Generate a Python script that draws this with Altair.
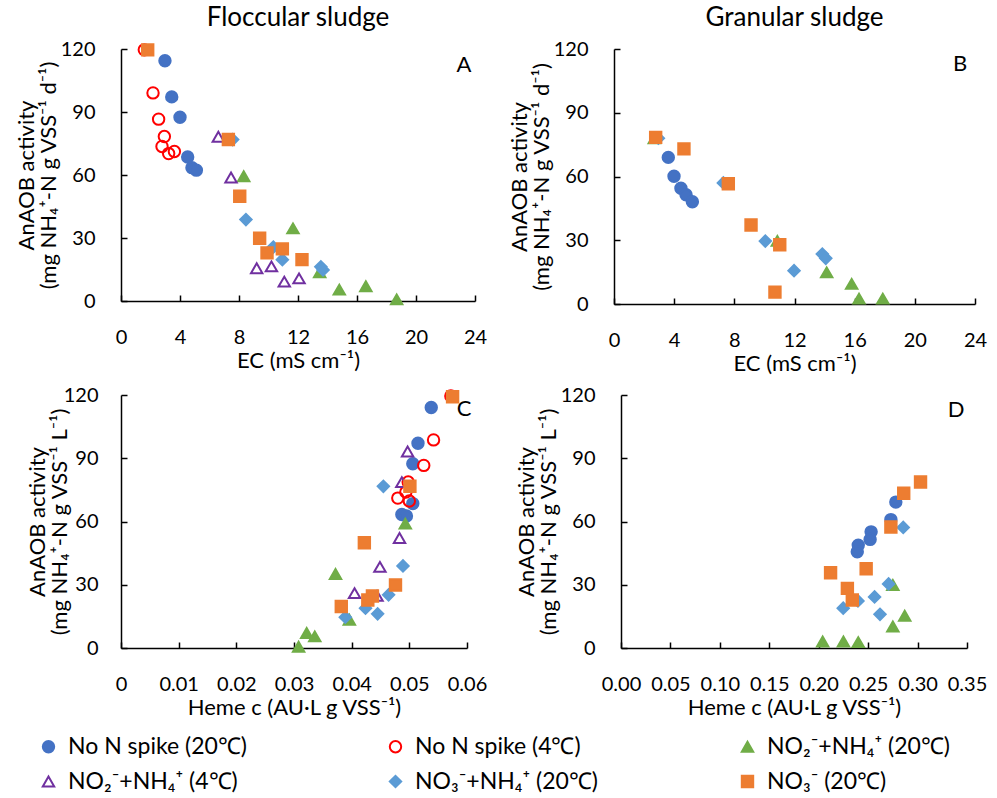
import altair as alt
import pandas as pd

FONT = "Lato"

SERIES = ["No N spike (20℃)", "No N spike (4℃)", "NO₂⁻+NH₄⁺ (20℃)",
          "NO₂⁻+NH₄⁺ (4℃)", "NO₃⁻+NH₄⁺ (20℃)", "NO₃⁻ (20℃)"]
FILLS = ["#4472C4", "transparent", "#70AD47", "transparent", "#5B9BD5", "#ED7D31"]
STROKES = ["#4472C4", "#FF0000", "#70AD47", "#7030A0", "#5B9BD5", "#ED7D31"]
SHAPES = ["circle", "circle", "triangle-up", "triangle-up", "diamond", "square"]

# ---- Panel A: floccular sludge, EC vs activity ----
A_blue_x = [2.98, 3.44, 4.0, 4.52, 4.81, 5.11]
A_blue_y = [114.4, 97.2, 87.5, 68.6, 63.5, 62.3]
A_red_x = [1.58, 2.17, 2.55, 2.94, 2.78, 3.23, 3.62]
A_red_y = [119.6, 99.1, 86.6, 78.3, 73.6, 70.2, 71.2]
A_green_x = [8.32, 11.66, 13.47, 14.8, 16.6, 18.69]
A_green_y = [59.4, 34.6, 13.7, 5.4, 7.0, 0.8]
A_purple_x = [6.6, 7.46, 9.2, 10.2, 11.07, 12.07]
A_purple_y = [78.2, 58.8, 15.6, 16.5, 9.2, 10.8]
A_diam_x = [7.57, 8.47, 10.33, 10.94, 13.55, 13.7]
A_diam_y = [76.9, 38.8, 25.7, 19.7, 16.3, 14.8]
A_orange_x = [1.81, 7.28, 8.05, 9.4, 9.9, 10.94, 12.27]
A_orange_y = [119.6, 76.9, 49.9, 29.9, 22.9, 24.8, 19.7]

# ---- Panel B: granular sludge, EC vs activity ----
B_blue_x = [3.61, 3.99, 4.45, 4.79, 5.21]
B_blue_y = [69.0, 60.1, 54.5, 51.4, 48.1]
B_green_x = [2.68, 10.86, 14.14, 15.8, 16.29, 17.87]
B_green_y = [78.0, 29.7, 14.9, 9.5, 2.5, 2.5]
B_diam_x = [2.95, 7.27, 10.06, 11.97, 13.85, 14.08]
B_diam_y = [78.0, 57.0, 29.6, 15.7, 23.5, 21.5]
B_orange_x = [2.77, 4.65, 7.6, 9.11, 11.02, 10.7]
B_orange_y = [78.4, 73.0, 56.6, 37.2, 27.9, 5.6]

# ---- Panel C: floccular sludge, heme c vs activity ----
C_blue_x = [0.0538, 0.0515, 0.0506, 0.0506, 0.0487, 0.0495]
C_blue_y = [114.1, 97.1, 87.4, 68.5, 63.3, 62.6]
C_red_x = [0.0572, 0.0542, 0.0525, 0.0498, 0.0494, 0.0480, 0.0500]
C_red_y = [119.5, 98.7, 86.6, 78.7, 74.0, 71.1, 69.7]
C_green_x = [0.0493, 0.0372, 0.0396, 0.0322, 0.0336, 0.0308]
C_green_y = [59.0, 35.1, 13.4, 7.1, 5.5, 0.6]
C_purple_x = [0.0497, 0.0487, 0.0483, 0.0449, 0.0444, 0.0405]
C_purple_y = [93.2, 78.7, 52.2, 38.5, 24.7, 26.0]
C_diam_x = [0.0455, 0.0489, 0.0464, 0.0445, 0.0389, 0.0424]
C_diam_y = [76.7, 38.9, 25.2, 16.2, 14.6, 18.9]
C_orange_x = [0.0575, 0.0501, 0.0422, 0.0476, 0.0436, 0.0428, 0.0382]
C_orange_y = [119.2, 76.7, 49.9, 29.9, 24.7, 22.8, 19.7]

# ---- Panel D: granular sludge, heme c vs activity ----
D_blue_x = [0.278, 0.273, 0.253, 0.252, 0.240, 0.239]
D_blue_y = [69.2, 60.9, 55.1, 51.5, 48.8, 45.6]
D_green_x = [0.204, 0.225, 0.240, 0.275, 0.287, 0.275]
D_green_y = [3.1, 3.1, 2.8, 29.9, 15.3, 10.2]
D_diam_x = [0.2855, 0.2707, 0.2565, 0.2397, 0.2248, 0.262]
D_diam_y = [57.2, 30.4, 24.2, 22.3, 18.9, 16.0]
D_orange_x = [0.303, 0.286, 0.273, 0.248, 0.212, 0.229, 0.234]
D_orange_y = [78.7, 73.4, 57.4, 37.6, 35.7, 28.3, 22.8]

PANELS = {
    "A": [(0, A_blue_x, A_blue_y), (1, A_red_x, A_red_y), (2, A_green_x, A_green_y),
          (3, A_purple_x, A_purple_y), (4, A_diam_x, A_diam_y), (5, A_orange_x, A_orange_y)],
    "B": [(0, B_blue_x, B_blue_y), (2, B_green_x, B_green_y),
          (4, B_diam_x, B_diam_y), (5, B_orange_x, B_orange_y)],
    "C": [(0, C_blue_x, C_blue_y), (1, C_red_x, C_red_y), (2, C_green_x, C_green_y),
          (3, C_purple_x, C_purple_y), (4, C_diam_x, C_diam_y), (5, C_orange_x, C_orange_y)],
    "D": [(0, D_blue_x, D_blue_y), (2, D_green_x, D_green_y),
          (4, D_diam_x, D_diam_y), (5, D_orange_x, D_orange_y)],
}

rows = []
for p, groups in PANELS.items():
    for si, xs, ys in groups:
        for xv, yv in zip(xs, ys):
            rows.append({"panel": p, "series": SERIES[si], "x": xv, "y": yv})
df = pd.DataFrame(rows)

# first legend column is wider in the reference: pad its labels with no-break spaces
NBSP = "\u00a0" * 33
label_expr = (f"(datum.label == '{SERIES[0]}' || datum.label == '{SERIES[3]}') "
              f"? datum.label + '{NBSP}' : datum.label")

legend = alt.Legend(
    title=None, orient="none", legendX=-84, legendY=686, columns=3, direction="horizontal",
    columnPadding=137, rowPadding=11, labelFont=FONT, labelFontSize=23,
    labelColor="black", symbolSize=130, symbolStrokeWidth=2, labelOffset=8,
    labelLimit=600, labelExpr=label_expr,
)


def panel(name, xdom, xticks, xfmt, xtitle, ytitle, w, h, tpad, lpad, lx, ly, title=None):
    d = df[df["panel"] == name]
    xaxis = alt.Axis(values=xticks, format=xfmt, title=xtitle, labelOverlap=False,
                     labelFlush=False, tickSize={"expr": "-6"}, labelPadding=32,
                     titlePadding=3)
    yaxis = alt.Axis(values=[0, 30, 60, 90, 120], title=ytitle, labelOverlap=False,
                     tickSize={"expr": "-6"}, labelPadding=lpad, titlePadding=tpad)
    pts = alt.Chart(d).mark_point(size=130, strokeWidth=2, opacity=1).encode(
        x=alt.X("x:Q", scale=alt.Scale(domain=xdom, nice=False), axis=xaxis),
        y=alt.Y("y:Q", scale=alt.Scale(domain=[0, 120], nice=False), axis=yaxis),
        shape=alt.Shape("series:N", scale=alt.Scale(domain=SERIES, range=SHAPES), legend=legend),
        fill=alt.Fill("series:N", scale=alt.Scale(domain=SERIES, range=FILLS), legend=legend),
        stroke=alt.Stroke("series:N", scale=alt.Scale(domain=SERIES, range=STROKES), legend=legend),
    )
    letter = alt.Chart(pd.DataFrame({"t": [name]})).mark_text(
        font=FONT, fontSize=22, color="black", align="center", baseline="middle"
    ).encode(text="t:N", x=alt.value(w - lx), y=alt.value(ly))
    ch = alt.layer(pts, letter).properties(width=w, height=h)
    if title:
        ch = ch.properties(title=alt.Title(title, font=FONT, fontSize=26, fontWeight="normal",
                                           color="black", offset=8))
    return ch


yt1 = ["AnAOB activity", "(mg NH₄⁺-N g VSS⁻¹ d⁻¹)"]
yt2 = ["AnAOB activity", "(mg NH₄⁺-N g VSS⁻¹ L⁻¹)"]
ec = "EC (mS cm⁻¹)"
heme = "Heme c (AU·L g VSS⁻¹)"

A = panel("A", [0, 24], [0, 4, 8, 12, 16, 20, 24], "d", ec, yt1, 354, 252, 0, 32, 11, 16,
          "Floccular sludge")
B = panel("B", [0, 24], [0, 4, 8, 12, 16, 20, 24], "d", ec, yt1, 361, 255, 0, 32, 15, 15,
          "Granular sludge")
C = panel("C", [0, 0.06], [0, 0.01, 0.02, 0.03, 0.04, 0.05, 0.06], "~g", heme, yt2,
          346, 253, -8, 29, 3, 14)
D = panel("D", [0, 0.35], [0, 0.05, 0.1, 0.15, 0.2, 0.25, 0.3, 0.35], ".2f", heme, yt2,
          346, 253, 0, 32, 11, 15)

chart = alt.vconcat(
    alt.hconcat(A, B, spacing=21),
    alt.hconcat(C, D, spacing=28),
    spacing=11,
).properties(
    padding={"left": 15, "top": 5, "right": 4, "bottom": 4}
).configure_view(stroke=None).configure_axis(
    grid=False, domainColor="black", domainWidth=1.5, tickColor="black", tickWidth=1.5,
    labelFont=FONT, labelFontSize=20, labelColor="black",
    titleFont=FONT, titleFontSize=22, titleFontWeight="normal", titleColor="black",
    titleLineHeight=22,
).configure_legend(gridAlign="each")

chart.save("out.html", embed_options={"renderer": "svg", "actions": False})
